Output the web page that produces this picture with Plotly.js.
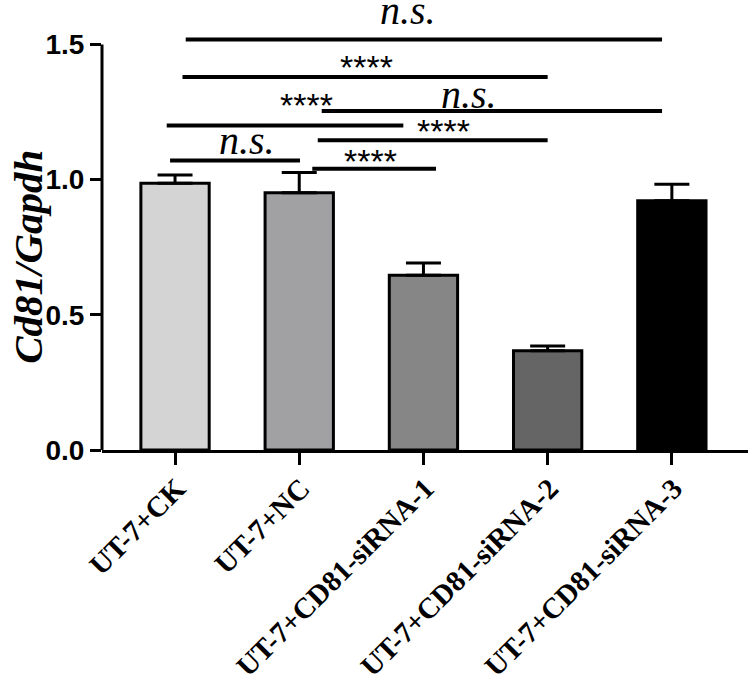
<!DOCTYPE html>
<html>
<head>
<meta charset="utf-8">
<script src="https://cdn.plot.ly/plotly-3.0.1.min.js"></script>
<style>
  html, body { margin: 0; padding: 0; background: #ffffff; }
  #chart { width: 748px; height: 688px; }
</style>
</head>
<body>
<div id="chart"></div>
<script>
// ---- data ----
const categories = ['UT-7+CK', 'UT-7+NC', 'UT-7+CD81-siRNA-1', 'UT-7+CD81-siRNA-2', 'UT-7+CD81-siRNA-3'];
const meanValues = [0.987, 0.952, 0.646, 0.367, 0.922];
const errorValues = [0.030, 0.075, 0.046, 0.018, 0.061];
const yTickValues = [0, 0.5, 1.0, 1.5];
const yTickLabels = ['0.0', '0.5', '1.0', '1.5'];

// significance brackets (x in category units, level in y units)
const bracketStart = [0.086, 0.060, 1.181, -0.067, 1.149, -0.040, 1.105];
const bracketEnd   = [3.921, 3.000, 3.921, 1.838, 3.000, 1.006, 2.101];
const bracketLevel = [1.519, 1.380, 1.254, 1.200, 1.146, 1.071, 1.040];

// significance labels
const sigLabels = ['n.s.', '****', 'n.s.', '****', '****', 'n.s.', '****'];
const sigLabelX = [1.878, 1.543, 2.367, 1.059, 2.164, 0.576, 1.576];
const sigLabelY = [1.050, 0.913, 0.848, 0.823, 0.761, 0.739, 0.690]; // paper units

// ---- styles ----
const barColors = ['#d4d4d4', '#a1a1a4', '#868686', '#656565', '#000000'];

const trace = {
  type: 'bar',
  x: categories,
  y: meanValues,
  width: 0.55,
  marker: { color: barColors, line: { color: '#000000', width: 3 } },
  error_y: {
    type: 'data',
    symmetric: false,
    array: errorValues,
    arrayminus: errorValues.map(() => 0),
    color: '#000000',
    thickness: 3,
    width: 17.5
  },
  hoverinfo: 'skip'
};

const shapes = [];
// y-axis line from 0 to 1.5
shapes.push({
  type: 'line', xref: 'paper', yref: 'y', x0: 0, x1: 0, y0: 0, y1: 1.5,
  line: { color: '#000000', width: 3 }
});
for (let i = 0; i < bracketLevel.length; i++) {
  shapes.push({
    type: 'line', xref: 'x', yref: 'y',
    x0: bracketStart[i], x1: bracketEnd[i], y0: bracketLevel[i], y1: bracketLevel[i],
    line: { color: '#000000', width: 4 }
  });
}

const annotations = [];
for (let i = 0; i < sigLabels.length; i++) {
  const isNS = sigLabels[i] === 'n.s.';
  annotations.push({
    text: isNS ? '<i>' + sigLabels[i] + '</i>' : sigLabels[i],
    xref: 'x', yref: 'paper',
    x: sigLabelX[i], y: sigLabelY[i],
    xanchor: 'center', yanchor: 'middle',
    showarrow: false,
    font: isNS
      ? { family: 'Liberation Serif, Times New Roman, serif', size: 40, color: '#000000' }
      : { family: 'Liberation Sans, Arial, sans-serif', size: 34, color: '#000000' }
  });
}
// y axis title
annotations.push({
  text: '<b><i>Cd81/Gapdh</i></b>',
  xref: 'paper', yref: 'paper',
  x: -0.114, y: 0.462,
  xanchor: 'center', yanchor: 'middle',
  textangle: -90,
  showarrow: false,
  font: { family: 'Liberation Serif, Times New Roman, serif', size: 41, color: '#000000' }
});

const layout = {
  width: 748,
  height: 688,
  margin: { l: 102, r: 0, t: 31, b: 238, pad: 0 },
  paper_bgcolor: '#ffffff',
  plot_bgcolor: '#ffffff',
  showlegend: false,
  bargap: 0,
  xaxis: {
    type: 'category',
    range: [-0.588, 4.613],
    showline: true,
    linecolor: '#000000',
    linewidth: 3,
    ticks: 'outside',
    ticklen: 12,
    tickwidth: 3,
    tickcolor: '#000000',
    tickangle: -45,
    ticklabelstandoff: -5,
    ticklabelshift: 2,
    tickfont: { family: 'Liberation Serif, Times New Roman, serif', size: 29, color: '#000000', weight: 'bold' },
    showgrid: false,
    zeroline: false,
    fixedrange: true
  },
  yaxis: {
    range: [0, 1.55],
    showline: false,
    ticks: 'outside',
    ticklen: 11,
    tickwidth: 3,
    tickcolor: '#000000',
    tickvals: yTickValues,
    ticktext: yTickLabels,
    tickfont: { family: 'Liberation Sans, Arial, sans-serif', size: 28, color: '#000000', weight: 'bold' },
    showgrid: false,
    zeroline: false,
    fixedrange: true
  },
  shapes: shapes,
  annotations: annotations
};

Plotly.newPlot('chart', [trace], layout, { displayModeBar: false, staticPlot: true });
</script>
</body>
</html>
